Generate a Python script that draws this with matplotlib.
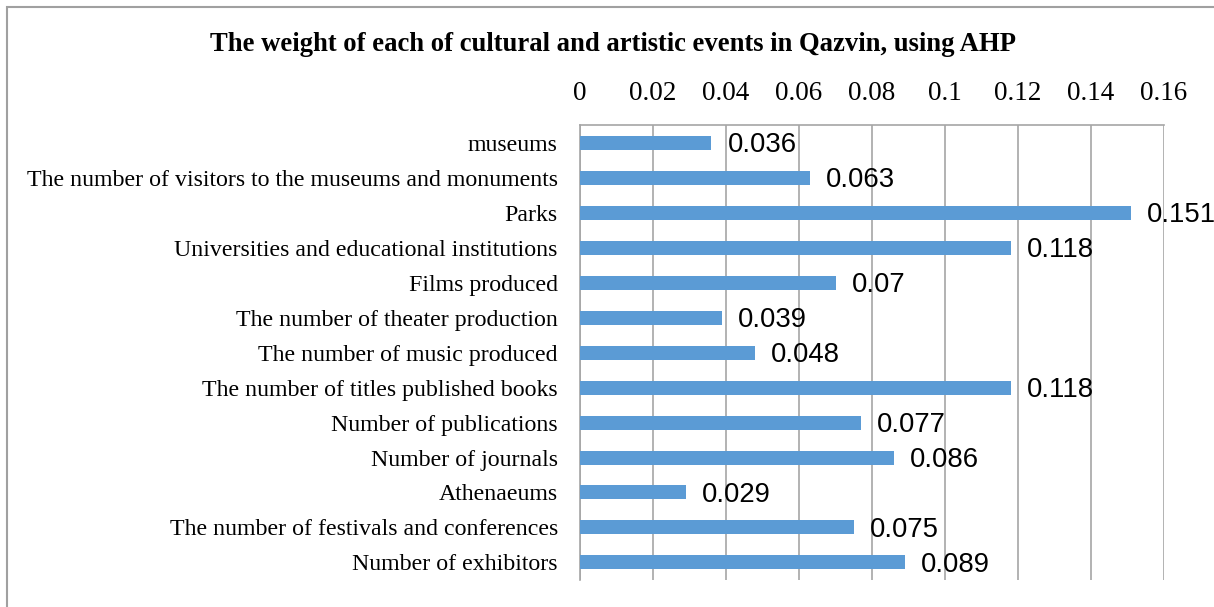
import matplotlib
matplotlib.use("Agg")
import matplotlib.pyplot as plt
from matplotlib.patches import Rectangle

categories = [
    "museums",
    "The number of visitors to the museums and monuments",
    "Parks",
    "Universities and educational institutions",
    "Films produced",
    "The number of theater production",
    "The number of music produced",
    "The number of titles published books",
    "Number of publications",
    "Number of journals",
    "Athenaeums",
    "The number of festivals and conferences",
    "Number of exhibitors",
]
weights = [0.036, 0.063, 0.151, 0.118, 0.07, 0.039, 0.048, 0.118, 0.077, 0.086, 0.029, 0.075, 0.089]
weight_labels = ["0.036", "0.063", "0.151", "0.118", "0.07", "0.039", "0.048",
                 "0.118", "0.077", "0.086", "0.029", "0.075", "0.089"]
tick_values = [0, 0.02, 0.04, 0.06, 0.08, 0.1, 0.12, 0.14, 0.16]
tick_labels = ["0", "0.02", "0.04", "0.06", "0.08", "0.1", "0.12", "0.14", "0.16"]

serif = ["Liberation Serif", "DejaVu Serif"]
sans = ["Liberation Sans", "DejaVu Sans"]

fig = plt.figure(figsize=(12.14, 6.07), dpi=100)
ax = fig.add_axes([0.4778, 0.0445, 0.9588 - 0.4778, 0.794 - 0.0445])

y = list(range(len(categories)))
ax.barh(y, weights, height=0.4, color="#5B9BD5", zorder=3)
ax.set_ylim(len(categories) - 0.5, -0.5)
ax.set_xlim(0, 0.16)

for yi, w, lab in zip(y, weights, weight_labels):
    ax.annotate(lab, xy=(w, yi), xytext=(11.5, -2), textcoords="offset points",
                va="center", ha="left", fontsize=19.8, family=sans, color="black",
                zorder=4, annotation_clip=False)

ax.xaxis.tick_top()
ax.set_xticks(tick_values)
ax.set_xticklabels(tick_labels, family=serif, fontsize=19.5)
ax.tick_params(axis="x", length=0, pad=14)
ax.set_yticks(y)
ax.set_yticklabels(categories, family=serif, fontsize=17.2)
ax.tick_params(axis="y", length=0, pad=16)

ax.grid(axis="x", color="#A6A6A6", linewidth=1.2, zorder=0)
for side in ["right", "bottom"]:
    ax.spines[side].set_visible(False)
for side in ["top", "left"]:
    ax.spines[side].set_color("#A6A6A6")
    ax.spines[side].set_linewidth(1.2)

fig.text(0.505, 0.926, "The weight of each of cultural and artistic events in Qazvin, using AHP",
         ha="center", va="center", fontsize=19.2, fontweight="bold", family=serif)

fig.patches.append(Rectangle((7 / 1214, -0.05), 1.2, 1.05 - 7 / 607,
                             transform=fig.transFigure, fill=False,
                             edgecolor="#A0A0A0", linewidth=1.5))

fig.savefig("out.png", dpi=100)
